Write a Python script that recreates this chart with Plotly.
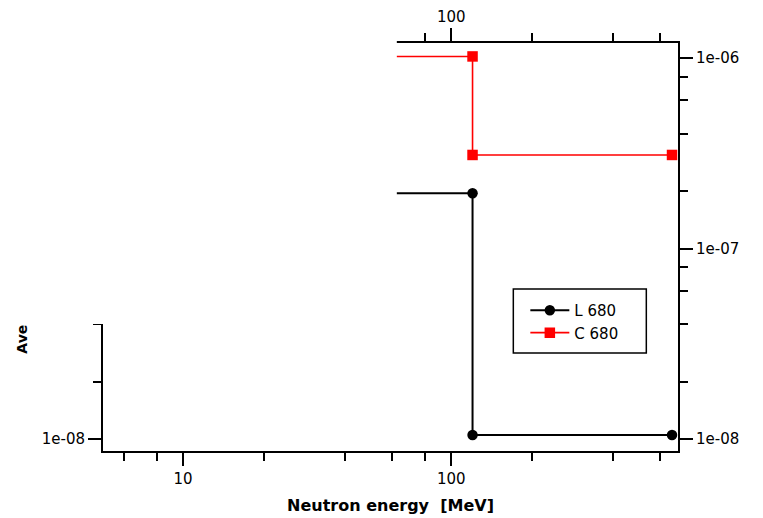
import plotly.graph_objects as go
import math

# ---- data ----
L680_energy = [20, 120, 120, 665]
L680_value = [1.95e-7, 1.95e-7, 1.05e-8, 1.05e-8]
C680_energy = [20, 120, 120, 665]
C680_value = [1.02e-6, 1.02e-6, 3.1e-7, 3.1e-7]

x_major = [10, 100]
x_major_text = ["10", "100"]
x_minor = [6, 8, 20, 40, 60, 80, 200, 400, 600]
y_major = [1e-8, 1e-7, 1e-6]
y_major_text = ["1e-08", "1e-07", "1e-06"]
y_minor = [2e-8, 4e-8, 6e-8, 8e-8, 2e-7, 4e-7, 6e-7, 8e-7]

x_range = [math.log10(5.03), math.log10(700)]
y_range = [math.log10(8.65e-9), math.log10(1.2e-6)]

FONT = "DejaVu Sans"

fig = go.Figure()
fig.add_trace(go.Scatter(x=L680_energy, y=L680_value, name="L 680", mode="lines+markers",
                         line=dict(color="black", width=2),
                         marker=dict(symbol="circle", size=10.5, color="black"),
                         cliponaxis=False))
fig.add_trace(go.Scatter(x=C680_energy, y=C680_value, name="C 680", mode="lines+markers",
                         line=dict(color="#ff0000", width=1.6),
                         marker=dict(symbol="square", size=10.5, color="#ff0000"),
                         cliponaxis=False))
# empty trace to activate top/right axes
fig.add_trace(go.Scatter(x=[], y=[], xaxis="x2", yaxis="y2", showlegend=False))

common_tick = dict(ticks="outside", ticklen=13, tickwidth=1.5, tickcolor="black",
                   showline=True, linecolor="black", linewidth=2, showgrid=False,
                   zeroline=False, automargin=False,
                   tickfont=dict(family=FONT, size=15, color="black"))
minor_cfg = dict(tickmode="array", ticks="outside", ticklen=8, tickwidth=1.5, tickcolor="black")

# the page body adds an 8px offset, so the figure is 8px smaller and margins shifted
fig.update_layout(
    width=755, height=510,
    margin=dict(l=95, r=85, t=35, b=67, autoexpand=False),
    paper_bgcolor="white", plot_bgcolor="white",
    font=dict(family=FONT, size=15, color="black"),
    xaxis=dict(type="log", range=x_range, tickmode="array", tickvals=x_major,
               ticktext=x_major_text, minor=dict(tickvals=x_minor, **minor_cfg),
               title=dict(text="<b>Neutron energy&nbsp;&nbsp;[MeV]</b>",
                          font=dict(family=FONT, size=16, color="black"), standoff=13),
               **common_tick),
    xaxis2=dict(type="log", range=x_range, overlaying="x", side="top", tickmode="array",
                tickvals=x_major, ticktext=x_major_text,
                minor=dict(tickvals=x_minor, **minor_cfg), **common_tick),
    yaxis=dict(type="log", range=y_range, tickmode="array", tickvals=y_major,
               ticktext=y_major_text, minor=dict(tickvals=y_minor, **minor_cfg),
               **common_tick),
    yaxis2=dict(type="log", range=y_range, overlaying="y", side="right", tickmode="array",
                tickvals=y_major, ticktext=y_major_text,
                minor=dict(tickvals=y_minor, **minor_cfg), **common_tick),
    legend=dict(x=0.7345, y=0.385, xanchor="left", yanchor="top",
                bgcolor="rgba(0,0,0,0)", borderwidth=0, itemwidth=39,
                font=dict(family=FONT, size=15, color="black"), tracegroupgap=0),
    showlegend=True,
)

# white panel covering upper-left part of the figure (as in the reference)
fig.add_shape(type="rect", xref="paper", yref="paper", x0=-0.2, x1=0.511, y0=0.311, y1=1.2,
              fillcolor="white", line=dict(width=0), layer="above")
# legend frame
fig.add_shape(type="rect", xref="paper", yref="paper", x0=0.7136, x1=0.9449, y0=0.2400, y1=0.3968,
              fillcolor="white", line=dict(color="black", width=1.5), layer="above")

# visible fragment of the y-axis title
fig.add_annotation(text="<b>Ave</b>", xref="paper", yref="paper", x=-0.140, y=0.274,
                   textangle=-90, showarrow=False, xanchor="center", yanchor="middle",
                   font=dict(family=FONT, size=14, color="black"))

fig.write_html("out.html")
